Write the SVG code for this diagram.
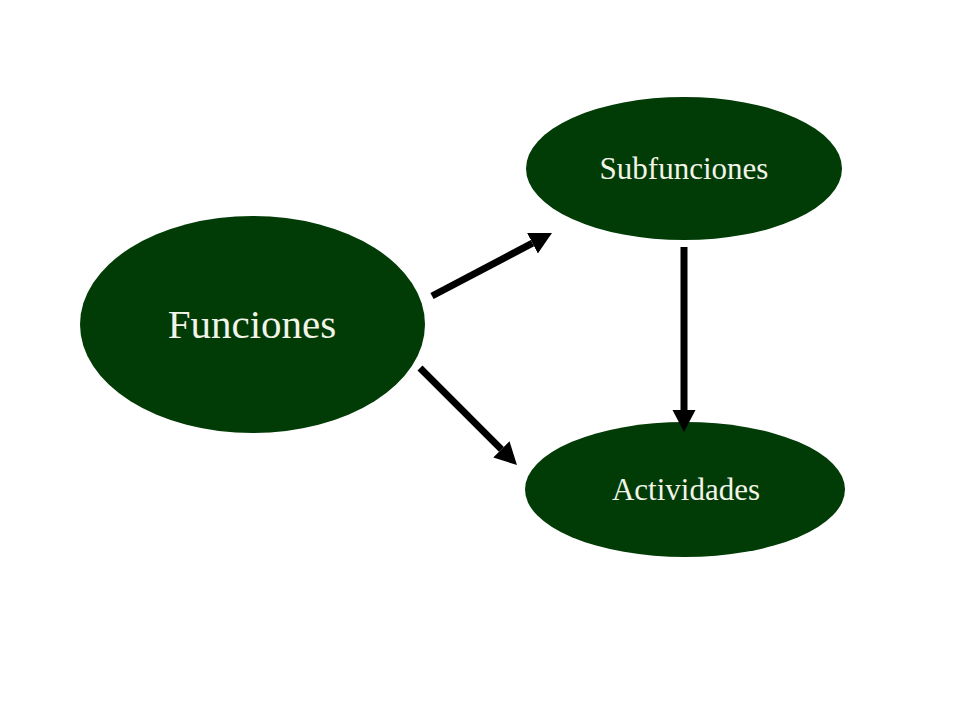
<svg xmlns="http://www.w3.org/2000/svg" width="960" height="720" viewBox="0 0 960 720">
<style>
.node{fill:#013b05;}
.lbl{font-family:"Liberation Serif","Times New Roman",serif;fill:#f2f4e8;text-anchor:middle;}
.edge{stroke:#000;stroke-width:7;fill:none;}
</style>
<defs>
<marker id="ah" markerUnits="userSpaceOnUse" viewBox="0 -12 24 24" markerWidth="24" markerHeight="24" refX="0" refY="0" orient="auto">
<path d="M0,-11.5 L22,0 L0,11.5 z" fill="#000"/>
</marker>
</defs>
<rect width="960" height="720" fill="#fff"/>
<g id="funciones">
<ellipse class="node" cx="252.5" cy="324.5" rx="172.5" ry="108.5"/>
<text class="lbl" x="252" y="338" font-size="41">Funciones</text>
</g>
<g id="subfunciones">
<ellipse class="node" cx="684" cy="168.5" rx="158" ry="71.5"/>
<text class="lbl" x="684" y="179" font-size="31">Subfunciones</text>
</g>
<g id="actividades">
<ellipse class="node" cx="685" cy="489.5" rx="160" ry="67.5"/>
<text class="lbl" x="686" y="500" font-size="31">Actividades</text>
</g>
<g id="connectors">
<line class="edge" x1="432" y1="296" x2="532.5" y2="243.2" marker-end="url(#ah)"/>
<line class="edge" x1="420" y1="368" x2="501.4" y2="449.4" marker-end="url(#ah)"/>
<line class="edge" x1="684" y1="247" x2="684" y2="410" marker-end="url(#ah)"/>
</g>
</svg>
